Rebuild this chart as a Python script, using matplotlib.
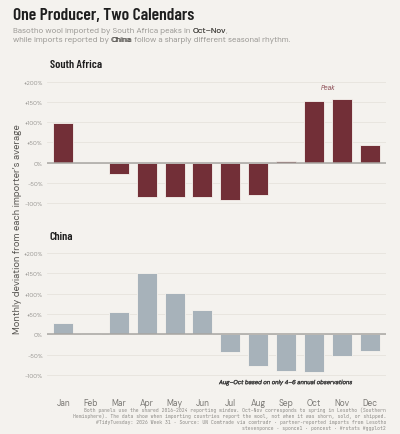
import matplotlib
matplotlib.use("Agg")
import matplotlib.pyplot as plt
import matplotlib.patheffects as pe
from matplotlib.transforms import offset_copy
import numpy as np

MONTHS = ["Jan", "Feb", "Mar", "Apr", "May", "Jun", "Jul", "Aug", "Sep", "Oct", "Nov", "Dec"]
SOUTH_AFRICA = [97, 0, -28, -85, -85, -85, -92, -79, 5, 153, 156, 43]
CHINA = [29, 3, 54, 152, 103, 60, -43, -79, -91, -93, -54, -41]
YTICKS = [-100, -50, 0, 50, 100, 150, 200]

BG = "#F4F2EE"
SA_COL = "#722F37"
CN_COL = "#A7B2BA"
GRID = "#E6E3DD"
COND = ["Barlow Condensed", "DejaVu Sans"]
SANS = ["DM Sans", "DejaVu Sans"]
MONO = ["JetBrains Mono", "DejaVu Sans Mono"]

plt.rcParams.update({"font.family": SANS, "axes.facecolor": BG, "figure.facecolor": BG})

W, H = 400, 435
fig = plt.figure(figsize=(W / 100, H / 100), dpi=100)


def px(x, y):
    return x / W, 1 - y / H


def panel(top_px, vals, col, name):
    bottom_px = top_px + 142.1
    ax = fig.add_axes([47 / W, 1 - bottom_px / H, 338.7 / W, 142.1 / H])
    x = np.arange(1, 13)
    v = np.array(vals, dtype=float)
    keep = v != 0
    ax.bar(x[keep], v[keep], width=0.72, color=col, edgecolor="#F7F4EF", linewidth=0.6, zorder=3)
    ax.axhline(0, color="#A8A6A2", linewidth=1.1, zorder=4)
    ax.set_xlim(0.42, 12.58)
    ax.set_ylim(-130, 220)
    ax.set_yticks(YTICKS)
    ax.set_yticklabels([f"+{v}%" if v > 0 else f"{v}%" for v in YTICKS])
    ax.tick_params(axis="y", length=0, labelsize=4.3, labelcolor="#9A9894", pad=3)
    ax.grid(axis="y", color=GRID, linewidth=0.6, zorder=0)
    for s in ax.spines.values():
        s.set_visible(False)
    ax.text(0.0087, 1.03, name, transform=ax.transAxes, family=COND, fontweight="semibold",
            fontsize=8.6, color="#1E1E1E", va="bottom", ha="left")
    return ax


ax1 = panel(74.4, SOUTH_AFRICA, SA_COL, "South Africa")
ax1.set_xticks([])
ax1.text(10.5, 186, "Peak", fontsize=4.8, style="italic", color="#8A4A52", ha="center", va="center")

ax2 = panel(246.0, CHINA, CN_COL, "China")
ax2.set_xticks(np.arange(1, 13))
ax2.set_xticklabels(MONTHS)
ax2.tick_params(axis="x", length=0, labelsize=6, labelcolor="#7A7874", pad=8)
ax2.text(9.0, -119, "Aug\u2013Oct based on only 4\u20136 annual observations", fontsize=4.2,
         style="italic", color="#3A3A3A", ha="center", va="center",
         path_effects=[pe.withStroke(linewidth=0.2, foreground="#3A3A3A")])

# title and subtitle
fig.text(*px(13, 15), "One Producer, Two Calendars", family=COND, fontweight="semibold",
         fontsize=12.6, color="#1E1E1E", va="center", ha="left")
sub_col, sub_bold = "#9A9894", "#4E4C48"
FS = 5.7
Y1, Y2 = px(0, 33.2)[1], px(0, 42.2)[1]


def bold_piece(s, y):
    # DM Sans has a single weight here: draw twice, nudged 0.3 pt, for a heavier look
    t = fig.text(0, y, s, fontsize=FS, color=sub_bold, va="baseline", ha="left")
    t2 = fig.text(0, y, s, fontsize=FS, color=sub_bold, va="baseline", ha="left",
                  transform=offset_copy(fig.transFigure, fig=fig, x=0.3, y=0, units="points"))
    return t, t2


l1 = fig.text(13 / W, Y1, "Basotho wool imported by South Africa peaks in ", fontsize=FS,
              color=sub_col, va="baseline", ha="left")
a, a2 = bold_piece("Oct\u2013Nov", Y1)
c = fig.text(0, Y1, ",", fontsize=FS, color=sub_col, va="baseline", ha="left")
l2 = fig.text(13 / W, Y2, "while imports reported by ", fontsize=FS, color=sub_col,
              va="baseline", ha="left")
b, b2 = bold_piece("China", Y2)
d = fig.text(0, Y2, " follow a sharply different seasonal rhythm.", fontsize=FS, color=sub_col,
             va="baseline", ha="left")

fig.text(*px(18, 229), "Monthly deviation from each importer\u2019s average", rotation=90,
         fontsize=6.7, color="#55534F", ha="center", va="center")

caption = [
    "Both panels use the shared 2016\u20132024 reporting window. Oct\u2013Nov corresponds to spring in Lesotho (Southern",
    "Hemisphere). The data show when importing countries report the wool, not when it was shorn, sold, or shipped.",
    "#TidyTuesday: 2026 Week 31 \u00b7 Source: UN Comtrade via comtradr \u00b7 partner-reported imports from Lesotho",
    "stevenponce \u00b7 sponce1 \u00b7 poncest \u00b7 #rstats #ggplot2",
]
for i, line in enumerate(caption):
    fig.text(*px(386, 410.7 + i * 5.9), line, family=MONO, fontsize=3.45,
             color="#8C8A86", ha="right", va="center")

# place the inline subtitle pieces one after another
r = fig.canvas.get_renderer()
inv = fig.transFigure.inverted()


def chain(prev, *nxt):
    x1 = inv.transform((prev.get_window_extent(r).x1, 0))[0]
    for t in nxt:
        t.set_x(x1)


fig.canvas.draw()
chain(l1, a, a2)
chain(l2, b, b2)
fig.canvas.draw()
chain(a2, c)
chain(b2, d)

fig.savefig("out.png", dpi=100, facecolor=BG)
